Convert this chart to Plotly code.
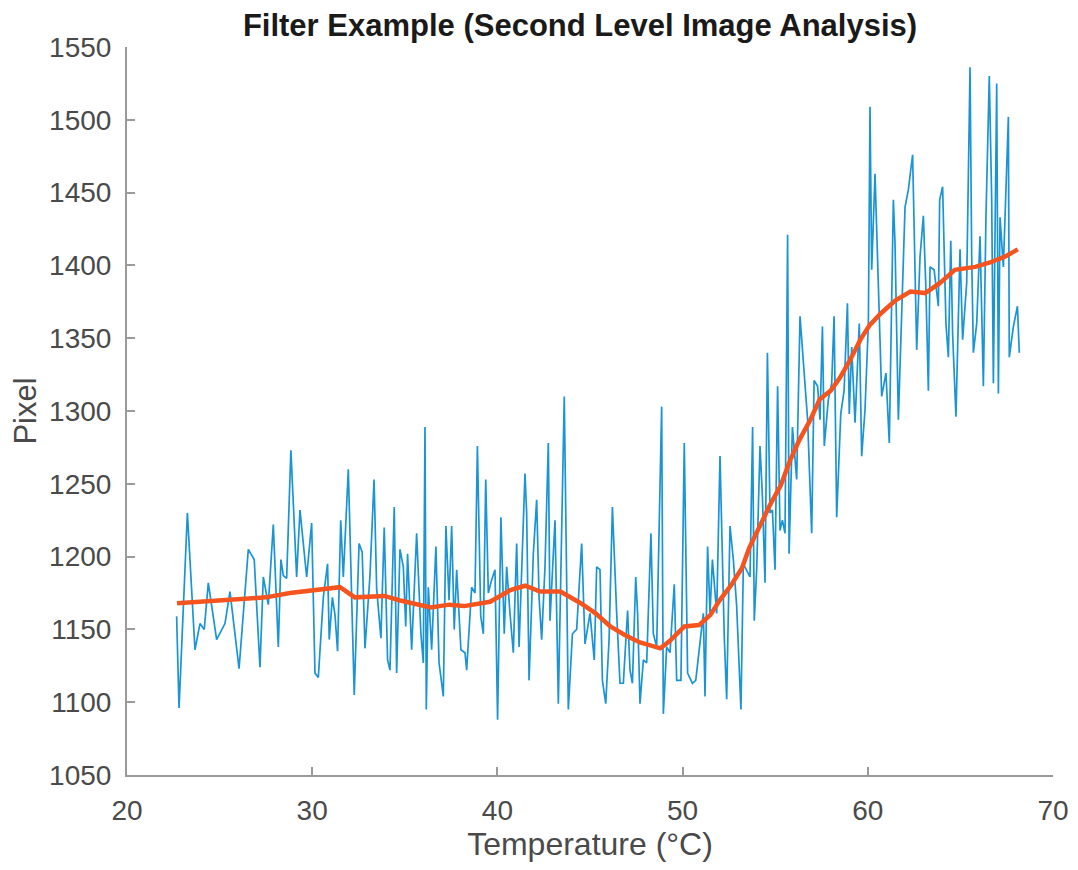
import plotly.graph_objects as go

# Raw signal (blue)
temp_raw = [
    22.68, 22.81, 23.26, 23.67, 23.94, 24.17, 24.39, 24.84, 25.29, 25.56, 26.05, 26.55, 26.87, 27.18, 27.36, 27.63, 27.90,
    28.17, 28.31, 28.44, 28.62, 28.85, 29.16, 29.34, 29.70, 29.97, 30.15, 30.33, 30.60, 30.83, 30.92, 31.09, 31.23, 31.37,
    31.54, 31.68, 31.95, 32.27, 32.53, 32.70, 32.85, 33.12, 33.34, 33.48, 33.71, 33.89, 34.07,
    34.20, 34.43, 34.56, 34.74, 34.92, 35.05, 35.15, 35.37, 35.64, 35.87, 36.00, 36.09, 36.16, 36.27, 36.45, 36.68,
    36.85, 37.08, 37.22, 37.39, 37.53, 37.67, 37.80, 38.03, 38.25, 38.34, 38.61, 38.79, 38.92, 39.10, 39.24, 39.37,
    39.51, 39.69, 39.87, 40.01,
    40.19, 40.37, 40.50, 40.68, 40.86, 41.04, 41.17, 41.49, 41.58, 41.71, 41.94, 42.12, 42.25, 42.39, 42.57, 42.75,
    42.84, 43.11, 43.29, 43.61, 43.74, 43.83, 44.05, 44.28, 44.55, 44.73, 45.00, 45.23, 45.36, 45.54, 45.67, 45.85,
    46.03, 46.21, 46.44, 46.62, 46.80, 47.03, 47.16, 47.29, 47.47, 47.57, 47.70, 47.88, 48.06, 48.29, 48.42, 48.60,
    48.87, 48.96, 49.14, 49.32, 49.55, 49.68, 49.91, 50.09, 50.27, 50.53, 50.71, 50.89, 51.12, 51.21, 51.35, 51.48,
    51.61, 51.84, 52.02,
    52.25, 52.38, 52.56, 52.74, 52.92, 53.15, 53.28, 53.46, 53.64, 53.78, 53.87, 54.00, 54.18, 54.31, 54.45, 54.58,
    54.72, 54.85, 54.99, 55.13, 55.26, 55.39, 55.53, 55.67, 55.75, 55.93, 56.16, 56.34, 56.52, 56.75, 56.97, 57.10,
    57.29, 57.42, 57.55, 57.65,
    57.87, 58.05, 58.18, 58.32, 58.54, 58.72, 58.90, 59.00, 59.13, 59.31, 59.54, 59.67, 59.85, 60.03, 60.12, 60.21,
    60.39, 60.57, 60.75, 60.98, 61.16, 61.38, 61.47, 61.65, 61.83, 62.01, 62.19, 62.42, 62.64, 62.82, 63.00,
    63.14, 63.27, 63.36, 63.58, 63.81, 63.88, 64.04, 64.22, 64.35, 64.48, 64.58, 64.76, 64.98, 65.12, 65.34, 65.52,
    65.61, 65.70, 65.88, 66.06, 66.24, 66.38, 66.56, 66.69, 66.78, 66.96, 67.05, 67.14, 67.32, 67.59, 67.64, 67.86,
    68.08, 68.18,
]
pixel_raw = [
    1159, 1096, 1230, 1136, 1154, 1150, 1182, 1143, 1154, 1176, 1123, 1205, 1198, 1124, 1186, 1167, 1222,
    1138, 1198, 1187, 1185, 1273, 1186, 1232, 1186, 1223, 1120, 1117, 1172, 1195, 1143, 1172, 1160, 1135,
    1225, 1186, 1260, 1105, 1209, 1203, 1137, 1187, 1253, 1178, 1144, 1220, 1129,
    1122, 1234, 1120, 1205, 1193, 1152, 1202, 1136, 1216, 1147, 1127, 1289, 1095, 1179, 1136, 1207,
    1127, 1104, 1221, 1170, 1221, 1150, 1191, 1136, 1134, 1122, 1179, 1175, 1276, 1159, 1147, 1253,
    1175, 1184, 1191, 1088,
    1227, 1147, 1193, 1161, 1134, 1209, 1138, 1257, 1230, 1115, 1202, 1239, 1172, 1143, 1193, 1278,
    1156, 1225, 1099, 1310, 1184, 1095, 1147, 1150, 1209, 1140, 1161, 1129, 1193, 1191, 1115, 1099,
    1143, 1234, 1161, 1113, 1113, 1163, 1122, 1113, 1186, 1161, 1099, 1129, 1127, 1216, 1147, 1138,
    1303, 1092, 1138, 1134, 1181, 1115, 1115, 1278, 1120, 1113, 1115, 1136, 1161, 1104, 1207, 1161,
    1198, 1161, 1269,
    1145, 1102, 1221, 1198, 1166, 1095, 1195, 1191, 1186, 1289, 1156, 1191, 1276, 1241, 1182, 1340,
    1230, 1232, 1191, 1317, 1218, 1225, 1216, 1421, 1202, 1289, 1253, 1365, 1333, 1294, 1216, 1321,
    1317, 1294, 1358, 1276,
    1308, 1319, 1365, 1227, 1298, 1314, 1374, 1298, 1344, 1292, 1360, 1269, 1301, 1360, 1509, 1397,
    1463, 1383, 1310, 1326, 1278, 1445, 1415, 1294, 1374, 1440, 1452, 1476, 1342, 1406, 1434,
    1383, 1314, 1399, 1397, 1372, 1445, 1454, 1360, 1337, 1417, 1353, 1296, 1411, 1349, 1388, 1536,
    1406, 1340, 1360, 1420, 1317, 1433, 1530, 1445, 1319, 1525, 1312, 1433, 1399, 1502, 1337, 1358,
    1372, 1340,
]

# Filtered signal (orange)
temp_filt = [
    22.7, 25.0, 27.5, 28.8, 30.0, 31.5, 32.3, 33.9, 34.7, 36.4, 37.4, 38.2, 39.6, 40.7, 41.5, 42.3, 43.4,
    44.5, 45.3, 46.1, 46.9, 47.7, 48.8, 49.3, 50.1, 50.9, 51.5, 52.0, 52.6, 53.2, 53.6, 54.2, 54.7, 55.3,
    55.8, 56.3, 56.9, 57.4, 58.0, 58.5, 59.0, 59.6, 60.1, 60.7, 61.5, 62.3, 63.1, 63.9, 64.7, 65.8, 66.6,
    67.4, 68.1,
]
pixel_filt = [
    1168, 1170, 1172, 1175, 1177, 1179, 1172, 1173, 1170, 1165, 1167, 1166, 1169, 1177, 1180, 1176, 1176,
    1168, 1161, 1152, 1146, 1141, 1137, 1142, 1152, 1153, 1160, 1170, 1180, 1192, 1206, 1222, 1235, 1249,
    1266, 1280, 1294, 1308, 1314, 1323, 1334, 1349, 1359, 1367, 1376, 1382, 1381, 1388, 1397, 1399, 1402,
    1406, 1411,
]

x_ticks = [20, 30, 40, 50, 60, 70]
y_ticks = [1050, 1100, 1150, 1200, 1250, 1300, 1350, 1400, 1450, 1500, 1550]

FONT = "Liberation Sans, Arial, sans-serif"

fig = go.Figure()
fig.add_trace(go.Scatter(x=temp_raw, y=pixel_raw, mode="lines",
                         line=dict(color="#1a94d4", width=1.7), showlegend=False))
fig.add_trace(go.Scatter(x=temp_filt, y=pixel_filt, mode="lines",
                         line=dict(color="#f5541f", width=4.5), showlegend=False))

axis_common = dict(showgrid=False, zeroline=False, showline=True, linecolor="#9a9a9a",
                   linewidth=2, ticks="inside", ticklen=8, tickcolor="#9a9a9a", tickwidth=1.5,
                   tickfont=dict(family=FONT, size=28, color="#4a4a4a"),
                   mirror=False, automargin=False)

fig.update_layout(
    width=1078, height=870,
    margin=dict(l=119, r=33, t=39, b=103),
    paper_bgcolor="white", plot_bgcolor="white",
    title=dict(text="<b>Filter Example (Second Level Image Analysis)</b>",
               x=0.5306, xanchor="center", y=0.9805, yanchor="middle",
               font=dict(family=FONT, size=31, color="#1a1a1a")),
    xaxis=dict(range=[20, 70], tickvals=x_ticks, ticklabelstandoff=9,
               title=dict(text="Temperature (°C)", standoff=8,
                          font=dict(family=FONT, size=32, color="#4a4a4a")),
               **axis_common),
    yaxis=dict(range=[1050, 1550], tickvals=y_ticks, ticklabelstandoff=8,
               title=dict(text="Pixel", standoff=10,
                          font=dict(family=FONT, size=31, color="#4a4a4a")),
               **axis_common),
)

fig.write_html("out.html")
